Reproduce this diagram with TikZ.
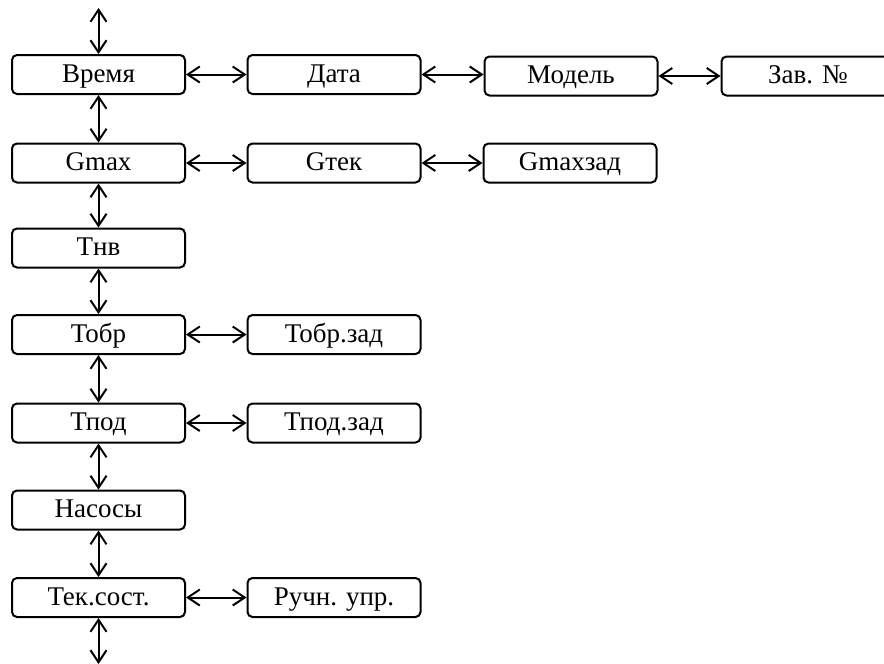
\documentclass[tikz,border=0pt]{standalone}
\usepackage{fontspec}
\setmainfont{Liberation Serif}
\usetikzlibrary{arrows.meta}
\tikzset{
  box/.style={draw, line width=2pt, rounded corners=5pt, minimum width=173pt, minimum height=39pt, inner sep=0pt, text height=20pt, text depth=5pt, font=\fontsize{27}{31}\selectfont},
  link/.style={line width=2pt, {Straight Barb[length=12pt,width=16pt]}-{Straight Barb[length=12pt,width=16pt]}}
}
\begin{document}
\begin{tikzpicture}[x=1pt,y=-1pt]
\useasboundingbox (0,0) rectangle (884,664);
\clip (0,0) rectangle (884,664);
\node[box] (vr) at (98.5,74.5) {Время};
\node[box] (da) at (334,74.5) {Дата};
\node[box] (mo) at (571,76) {Модель};
\node[box] (za) at (808,76) {Зав. №};
\node[box] (gm) at (98.5,163) {Gmax};
\node[box] (gt) at (334,163) {Gтек};
\node[box] (gz) at (570,163) {Gmaxзад};
\node[box] (tn) at (98.5,248) {Тнв};
\node[box] (to) at (98.5,334.5) {Тобр};
\node[box] (toz) at (334,334.5) {Тобр.зад};
\node[box] (tp) at (98.5,423) {Тпод};
\node[box] (tpz) at (334,423) {Тпод.зад};
\node[box] (na) at (98.5,510) {Насосы};
\node[box] (te) at (98.5,597.5) {Тек.сост.};
\node[box] (ru) at (334,597.5) {Ручн. упр.};
\coordinate (top) at (98.5,8);
\coordinate (bot) at (98.5,664);
\draw[link] (top) -- (vr.north);
\draw[link] (vr) -- (gm);
\draw[link] (gm) -- (tn);
\draw[link] (tn) -- (to);
\draw[link] (to) -- (tp);
\draw[link] (tp) -- (na);
\draw[link] (na) -- (te);
\draw[link] (te.south) -- (bot);
\draw[link] (vr.east) -- (da.west);
\draw[link] (da.east) -- (mo.west |- da.east);
\draw[link] (mo.east) -- (za.west);
\draw[link] (gm) -- (gt);
\draw[link] (gt) -- (gz);
\draw[link] (to) -- (toz);
\draw[link] (tp) -- (tpz);
\draw[link] (te) -- (ru);
\end{tikzpicture}
\end{document}
